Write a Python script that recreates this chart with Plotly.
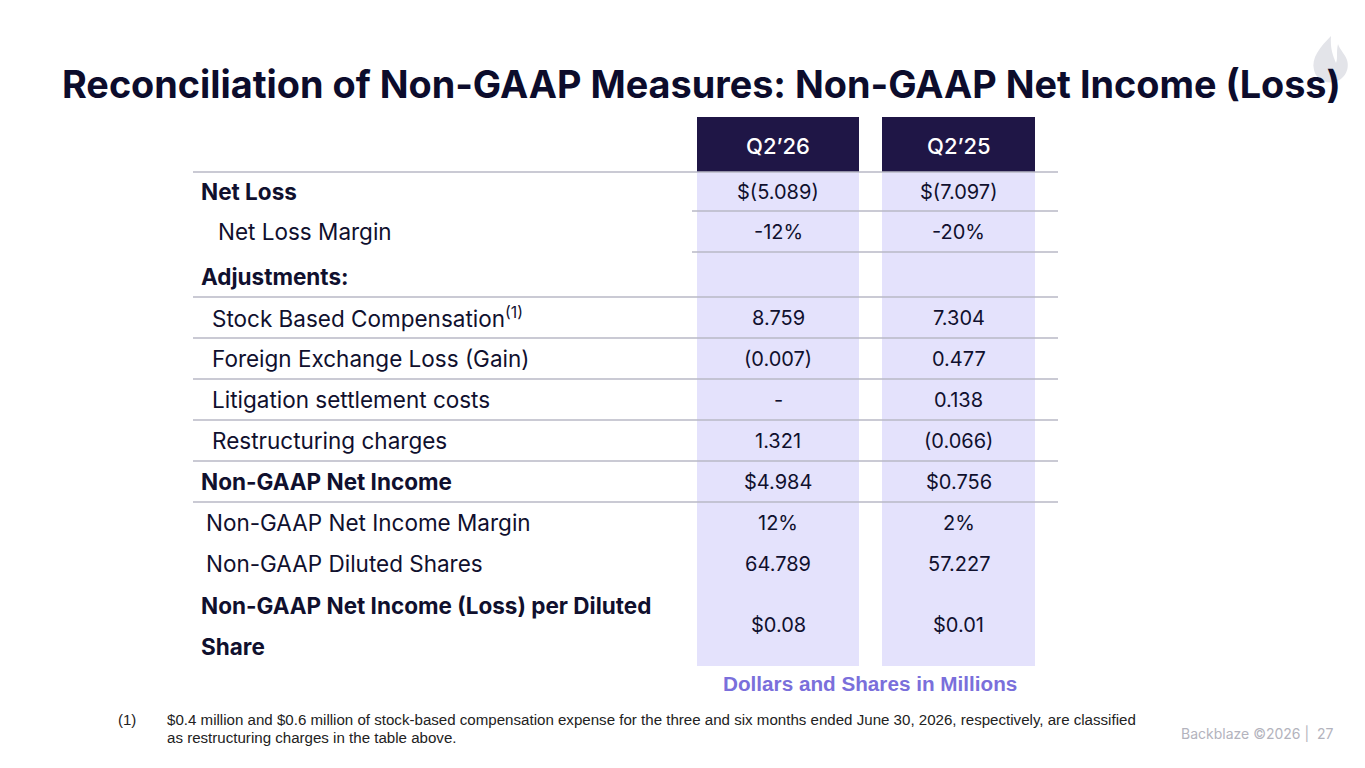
import plotly.graph_objects as go

# table content
row_labels = [
    "Net Loss",
    "Net Loss Margin",
    "Adjustments:",
    "Stock Based Compensation<sup>(1)</sup>",
    "Foreign Exchange Loss (Gain)",
    "Litigation settlement costs",
    "Restructuring charges",
    "Non-GAAP Net Income",
    "Non-GAAP Net Income Margin",
    "Non-GAAP Diluted Shares",
    ["Non-GAAP Net Income (Loss) per Diluted", "Share"],
]
col_headers = ["Q2\u201926", "Q2\u201925"]
q2_26 = ["$(5.089)", "-12%", "", "8.759", "(0.007)", "-", "1.321",
         "$4.984", "12%", "64.789", "$0.08"]
q2_25 = ["$(7.097)", "-20%", "", "7.304", "0.477", "0.138", "(0.066)",
         "$0.756", "2%", "57.227", "$0.01"]

title = "Reconciliation of Non-GAAP Measures: Non-GAAP Net Income (Loss)"
units_note = "Dollars and Shares in Millions"
footnote_mark = "(1)"
footnote_lines = [
    "$0.4 million and $0.6 million of stock-based compensation expense for the three "
    "and six months ended June 30, 2026, respectively, are classified",
    "as restructuring charges in the table above.",
]
footer = "Backblaze \u00a92026 |  27"

# layout (pixel grid, y grows downward)
W, H = 1365, 768
NAVY = "#1f1646"
INK = "#10102e"
LAVENDER = "#e4e2fc"
RULE = "#b9b9c6"
FONT = "Inter"
LABEL_SIZE = 22.5
VALUE_SIZE = 20

row_edges = [172, 211, 252, 297, 338, 379, 420, 461, 502, 543, 584, 666]
bold_rows = {0, 2, 7, 10}
indent = [199, 216, 199, 210, 210, 210, 210, 199, 204, 204, 199]
full_rules = [172, 297, 338, 379, 420, 461, 502]
value_rules = [211, 252]
cols = [(697, 859), (882, 1035)]
header_top = 117
rule_x = (193, 1058)

fig = go.Figure()
shapes = []
annotations = []


def label(x, y, text, bold):
    txt = f"<b>{text}</b>" if bold else text
    annotations.append(dict(x=x, y=y, text=txt, showarrow=False, align="left",
                            font=dict(family=FONT, size=LABEL_SIZE, color=INK),
                            xanchor="left", yanchor="middle"))


# column fills and headers
for (x0, x1), head in zip(cols, col_headers):
    shapes.append(dict(type="rect", x0=x0, x1=x1, y0=row_edges[0], y1=row_edges[-1],
                       fillcolor=LAVENDER, line_width=0, layer="below"))
    shapes.append(dict(type="rect", x0=x0, x1=x1, y0=header_top, y1=row_edges[0],
                       fillcolor=NAVY, line_width=0, layer="below"))
    annotations.append(dict(x=(x0 + x1) / 2, y=(header_top + row_edges[0]) / 2 + 1, text=head,
                            showarrow=False,
                            font=dict(family=FONT, size=22, color="white", weight=500),
                            xanchor="center", yanchor="middle"))

# rules
for y in full_rules:
    shapes.append(dict(type="line", x0=rule_x[0], x1=rule_x[1], y0=y, y1=y,
                       line=dict(color=RULE, width=1.3)))
for y in value_rules:
    shapes.append(dict(type="line", x0=cols[0][0] - 5, x1=rule_x[1], y0=y, y1=y,
                       line=dict(color=RULE, width=1.3)))

# rows
for i, lab in enumerate(row_labels):
    yc = (row_edges[i] + row_edges[i + 1]) / 2
    if i == 2:
        yc += 2
    if isinstance(lab, list):
        label(indent[i], yc - 20, lab[0], i in bold_rows)
        label(indent[i], yc + 21, lab[1], i in bold_rows)
    else:
        label(indent[i], yc, lab, i in bold_rows)
    for (x0, x1), vals in zip(cols, (q2_26, q2_25)):
        if vals[i]:
            annotations.append(dict(x=(x0 + x1) / 2, y=yc, text=vals[i], showarrow=False,
                                    font=dict(family=FONT, size=VALUE_SIZE, color=INK),
                                    xanchor="center", yanchor="middle"))

# title, notes, footer
annotations.append(dict(x=60, y=84, text=f"<b>{title}</b>", showarrow=False,
                        font=dict(family=FONT, size=37.8, color="#0c0c2c"),
                        xanchor="left", yanchor="middle"))
annotations.append(dict(x=870, y=683, text=f"<b>{units_note}</b>", showarrow=False,
                        font=dict(family="Liberation Sans", size=20.7, color="#7a6fdb"),
                        xanchor="center", yanchor="middle"))
annotations.append(dict(x=116, y=719, text=footnote_mark, showarrow=False,
                        font=dict(family="Liberation Sans", size=15, color="#222222"),
                        xanchor="left", yanchor="middle"))
for k, line in enumerate(footnote_lines):
    annotations.append(dict(x=165, y=719 + 18 * k, text=line, showarrow=False, align="left",
                            font=dict(family="Liberation Sans", size=15.1, color="#222222"),
                            xanchor="left", yanchor="middle"))
annotations.append(dict(x=1336, y=733, text=footer, showarrow=False,
                        font=dict(family=FONT, size=14, color="#b3b3bd"),
                        xanchor="right", yanchor="middle"))

# flame mark (top right)
shapes.append(dict(type="path", layer="below", fillcolor="#e3e4e9", line_width=0,
                   path="M 1331,36 C 1320,47 1311,58 1314,70 C 1316,79 1325,84 1334,82 "
                        "C 1344,80 1350,70 1347,60 C 1345,54 1340,50 1338,44 "
                        "C 1336,52 1338,58 1336,63 C 1333,56 1330,48 1331,36 Z"))

fig.update_layout(
    width=W, height=H,
    margin=dict(l=0, r=0, t=0, b=0),
    paper_bgcolor="white", plot_bgcolor="white",
    xaxis=dict(range=[0, W], visible=False, fixedrange=True),
    yaxis=dict(range=[H, 0], visible=False, fixedrange=True),
    shapes=shapes, annotations=annotations,
    showlegend=False,
)

fig.write_html("out.html", config={"displayModeBar": False},
               post_script="document.body.style.margin='0';")
